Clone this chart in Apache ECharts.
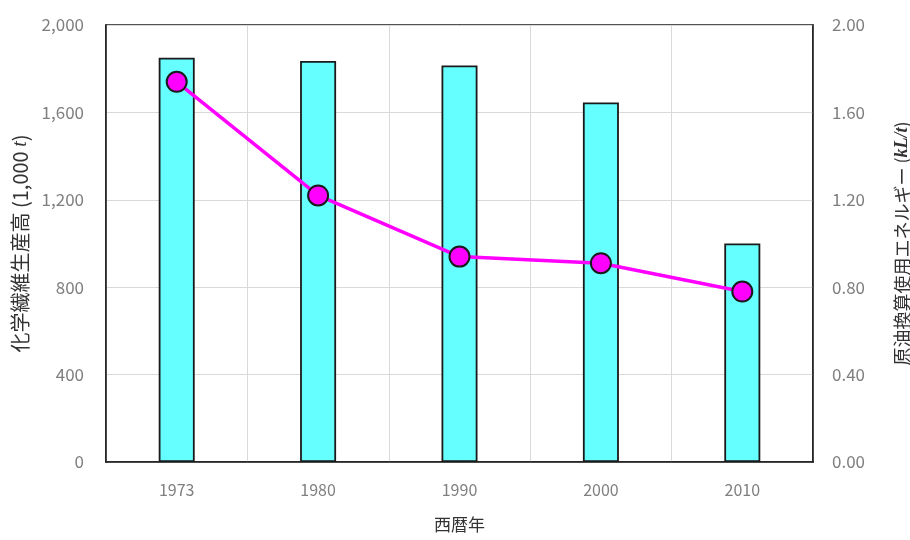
<!DOCTYPE html>
<html>
<head>
<meta charset="utf-8">
<script src="https://cdn.jsdelivr.net/npm/echarts@6/dist/echarts.min.js"></script>
<style>
html,body{margin:0;padding:0;background:#fff;}
#chart{width:910px;height:540px;}
</style>
</head>
<body>
<div id="chart"></div>
<script>
// Years on the category axis
const years = ['1973', '1980', '1990', '2000', '2010'];
// Synthetic fibre production (thousand tonnes)
const production = [1850, 1835, 1815, 1645, 1000];
// Crude-oil-equivalent energy used per tonne (kL/t)
const energy = [1.74, 1.22, 0.94, 0.91, 0.78];

const FONT = '"Noto Sans CJK JP", "Noto Sans", sans-serif';

const chart = echarts.init(document.getElementById('chart'));
chart.setOption({
  animation: false,
  backgroundColor: '#fff',
  grid: {
    left: 106, right: 97, top: 25, bottom: 78,
    outerBoundsMode: 'none',
    containLabel: false,
    show: true, borderColor: '#1a1a1a', borderWidth: 1.5, backgroundColor: 'transparent'
  },
  xAxis: {
    type: 'category',
    data: years,
    boundaryGap: true,
    name: '西暦年',
    nameLocation: 'middle',
    nameGap: 54,
    nameTextStyle: { fontFamily: FONT, fontSize: 17, color: '#333' },
    axisLine: { lineStyle: { color: '#1a1a1a', width: 1.5 } },
    axisTick: { show: false },
    axisLabel: { fontFamily: FONT, fontSize: 16, color: '#7f7f7f', margin: 20 },
    splitLine: { show: true, lineStyle: { color: '#d9d9d9', width: 1 } }
  },
  yAxis: [
    {
      type: 'value',
      min: 0, max: 2000, interval: 400,
      name: '化学繊維生産高 (1,000 {i|t})',
      nameLocation: 'middle',
      nameRotate: 90,
      nameGap: 72,
      nameTextStyle: {
        fontFamily: FONT, fontSize: 20, color: '#333',
        rich: { i: { fontStyle: 'italic', fontFamily: 'Liberation Serif', fontSize: 20, color: '#333' } }
      },
      axisLine: { show: true, lineStyle: { color: '#1a1a1a', width: 1.5 } },
      axisTick: { show: false },
      axisLabel: {
        fontFamily: FONT, fontSize: 17, color: '#7f7f7f', margin: 22,
        formatter: v => v.toLocaleString('en-US')
      },
      splitLine: { show: true, lineStyle: { color: '#d9d9d9', width: 1 } }
    },
    {
      type: 'value',
      min: 0, max: 2, interval: 0.4,
      position: 'right',
      name: '原油換算使用エネルギー ({i|kL/t})',
      nameLocation: 'middle',
      nameRotate: 90,
      nameGap: 80,
      nameTextStyle: {
        fontFamily: FONT, fontSize: 18, color: '#333',
        rich: { i: { fontStyle: 'italic', fontWeight: 'bold', fontFamily: 'Liberation Serif', fontSize: 18, color: '#333' } }
      },
      axisLine: { show: true, lineStyle: { color: '#1a1a1a', width: 1.5 } },
      axisTick: { show: false },
      axisLabel: {
        fontFamily: FONT, fontSize: 17, color: '#7f7f7f', margin: 19,
        formatter: v => v.toFixed(2)
      },
      splitLine: { show: false }
    }
  ],
  series: [
    {
      type: 'bar',
      data: production,
      yAxisIndex: 0,
      barWidth: 36,
      itemStyle: { color: '#66ffff', borderColor: '#1a1a1a', borderWidth: 1.8 }
    },
    {
      type: 'line',
      data: energy,
      yAxisIndex: 1,
      symbol: 'circle',
      symbolSize: 20,
      lineStyle: { color: '#ff00ff', width: 3.5 },
      itemStyle: { color: '#ff00ff', borderColor: '#1a1a1a', borderWidth: 2 },
      z: 5
    }
  ]
});
</script>
</body>
</html>
